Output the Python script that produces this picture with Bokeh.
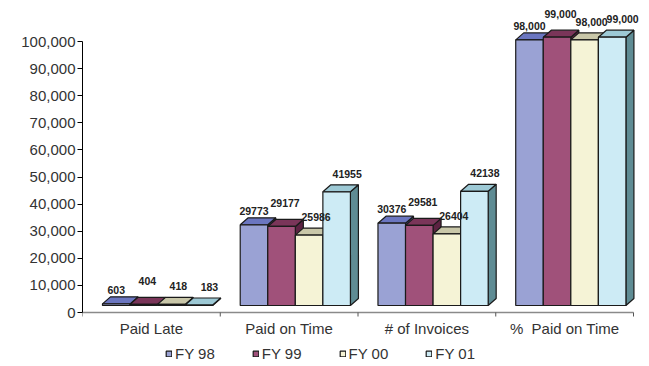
from bokeh.plotting import figure
from bokeh.models import FixedTicker, NumeralTickFormatter, Legend, LegendItem, Range1d
from bokeh.core.properties import value
from bokeh.embed import file_html
from bokeh.resources import INLINE

categories = ["Paid Late", "Paid on Time", "# of Invoices", "%\u00a0\u00a0Paid on Time"]
series = ["FY 98", "FY 99", "FY 00", "FY 01"]
fy98 = [603, 29773, 30376, 98000]
fy99 = [404, 29177, 29581, 99000]
fy00 = [418, 25986, 26404, 98000]
fy01 = [183, 41955, 42138, 99000]
labels98 = ["603", "29773", "30376", "98,000"]
labels99 = ["404", "29177", "29581", "99,000"]
labels00 = ["418", "25986", "26404", "98,000"]
labels01 = ["183", "41955", "42138", "99,000"]
y_ticks = list(range(0, 100001, 10000))

values = [fy98, fy99, fy00, fy01]
labels = [labels98, labels99, labels00, labels01]

front_colors = ["#9AA2D4", "#A0517A", "#F5F3D6", "#CDEBF5"]
top_colors = ["#6B76C0", "#7A3559", "#C9C7A9", "#9DC9D5"]
side_colors = ["#4F5C9E", "#5C2242", "#A9A78B", "#5F8C94"]
label_lift = [-3, -12, -7, -7]

FONT = "'Liberation Sans', Arial, sans-serif"

PX = 271.0 / 100000.0          # pixels per data unit (y)
PXX = 137.75                   # pixels per category (x)
BAR_W = 0.2
GROUP_OFF = 0.145
DX = 8 / PXX
DY = 7 / PX
BASE = 7 / PX
LABEL_SHIFT = 3.5 / PXX

n = len(categories)
p = figure(width=649, height=366, x_range=Range1d(0, n + 16 / PXX),
           y_range=Range1d(-54 / PX, 306 / PX),
           output_backend="svg", toolbar_location=None, x_axis_location=None,
           min_border_left=82, min_border_right=0, min_border_top=6, min_border_bottom=0)
p.outline_line_color = None
p.xgrid.visible = False
p.ygrid.visible = False
p.background_fill_color = "white"

# category axis (drawn at y = 0)
p.segment(x0=[0], y0=[0], x1=[n], y1=[0], line_color="#8a8a8a", line_width=1.5)
p.segment(x0=list(range(n + 1)), y0=[0] * (n + 1), x1=list(range(n + 1)),
          y1=[-4 / PX] * (n + 1), line_color="#555555", line_width=1)
p.text(x=[i + 0.5 for i in range(n)], y=[0] * n, text=categories,
       text_align="center", text_baseline="top", y_offset=7,
       text_font=value(FONT), text_font_size="15px", text_color="#333333")

items = []
label_specs = []
for j, vals in enumerate(values):
    lefts = [i + GROUP_OFF + j * BAR_W for i in range(n)]
    rights = [l + BAR_W for l in lefts]
    tops = [BASE + v for v in vals]
    side_xs = [[r, r + DX, r + DX, r] for r in rights]
    side_ys = [[BASE, BASE + DY, t + DY, t] for t in tops]
    top_xs = [[l, r, r + DX, l + DX] for l, r in zip(lefts, rights)]
    top_ys = [[t, t, t + DY, t + DY] for t in tops]
    p.patches(side_xs, side_ys, fill_color=side_colors[j], line_color="#1a1a1a", line_width=1.2)
    p.patches(top_xs, top_ys, fill_color=top_colors[j], line_color="#1a1a1a", line_width=1.2)
    fr = p.quad(left=lefts, right=rights, bottom=[BASE] * len(vals), top=tops,
                fill_color=front_colors[j], line_color="#1a1a1a", line_width=1.2)
    items.append(LegendItem(label=series[j], renderers=[fr]))
    label_specs.append(([(l + r) / 2 + j * LABEL_SHIFT for l, r in zip(lefts, rights)],
                        [t + DY for t in tops], labels[j], label_lift[j]))

for xs, ys, txt, lift in label_specs:
    p.text(x=xs, y=ys, text=txt,
           text_align="center", text_baseline="bottom", y_offset=lift,
           text_font=value(FONT), text_font_style="bold",
           text_font_size="10.5px", text_color="#222222")

# y axis
yax = p.yaxis[0]
yax.ticker = FixedTicker(ticks=y_ticks)
yax.formatter = NumeralTickFormatter(format="0,0")
yax.bounds = (0, 100000)
yax.axis_line_color = "#000000"
yax.major_tick_out = 5
yax.major_tick_in = 0
yax.minor_tick_line_color = None
yax.major_label_standoff = 2
yax.major_label_text_font = FONT
yax.major_label_text_font_size = "15px"
yax.major_label_text_color = "#333333"

legend = Legend(items=items, orientation="horizontal", location=(83, 4),
                glyph_width=7, glyph_height=7, label_standoff=3, spacing=37,
                padding=0, margin=0, border_line_alpha=0, background_fill_alpha=0,
                label_text_font=FONT, label_text_font_size="15px",
                label_text_color="#333333")
p.add_layout(legend)

open("out.html", "w").write(file_html(p, INLINE))
